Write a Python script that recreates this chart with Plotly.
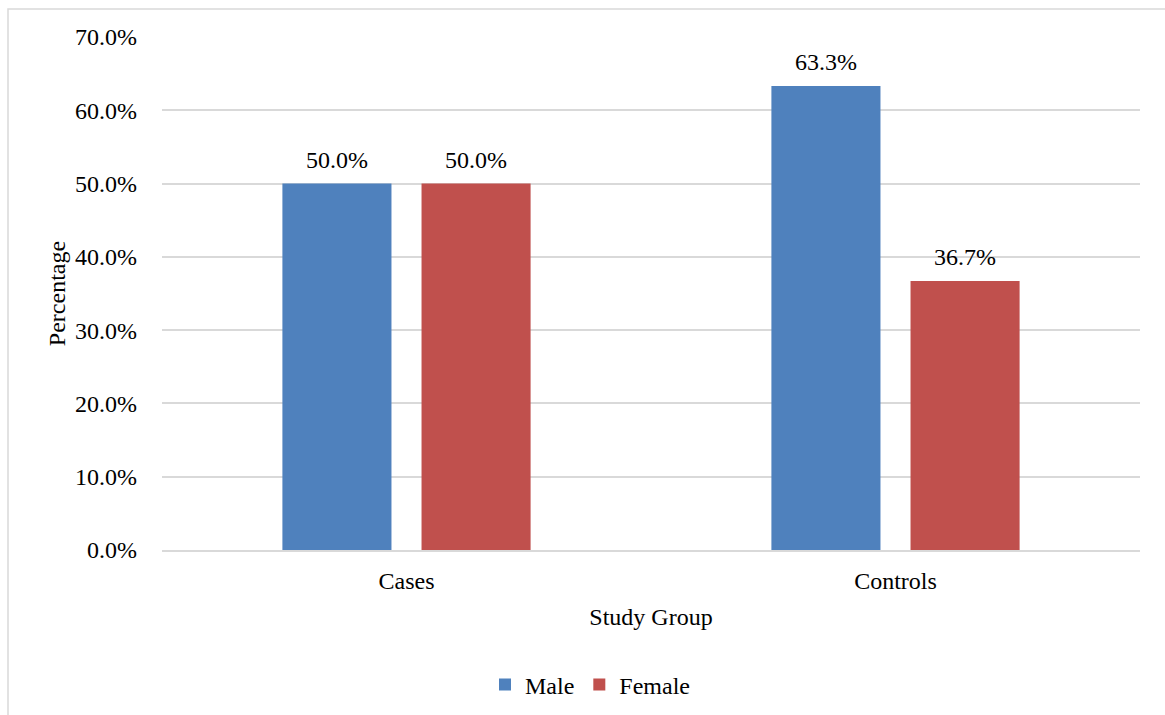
import plotly.graph_objects as go

# Study groups and sex distribution (percent)
groups = ["Cases", "Controls"]
male_pct = [50.0, 63.3]
female_pct = [50.0, 36.7]
y_ticks = [0, 10, 20, 30, 40, 50, 60, 70]

W, H = 1165, 715
L, R, T, B = 162, 25, 37, 165
plot_w = W - L - R
plot_h = H - T - B

FONT = "Liberation Serif"
GRID = "#d9d9d9"
FS = 24

BARGAP = 0.431
GROUPGAP = 0.216


def f(size=FS):
    return dict(family=FONT, size=size, color="#000000")


fig = go.Figure()
fig.add_trace(go.Bar(
    x=groups, y=male_pct, name="Male",
    marker=dict(color="#4F81BD", line=dict(width=0)),
))
fig.add_trace(go.Bar(
    x=groups, y=female_pct, name="Female",
    marker=dict(color="#C0504D", line=dict(width=0)),
))

# value labels above each bar, offset to the centre of its slot in the group
slot_px = plot_w / len(groups) * (1 - BARGAP) / 2
for k, series in enumerate([male_pct, female_pct]):
    for g, v in zip(groups, series):
        fig.add_annotation(
            x=g, y=v, xref="x", yref="y", text=f"{v:.1f}%",
            showarrow=False, font=f(), xanchor="center", yanchor="middle",
            xshift=(k - 0.5) * slot_px, yshift=24,
        )


# outer chart frame (extends past the right and bottom edges)
def px_x(p):
    return (p - L) / plot_w


def px_y(p):
    return (H - B - p) / plot_h


fig.add_shape(type="rect", xref="paper", yref="paper",
              x0=px_x(8), x1=px_x(1180), y0=px_y(730), y1=px_y(9),
              line=dict(color=GRID, width=1.5), fillcolor="rgba(0,0,0,0)", layer="below")

fig.update_layout(
    width=W, height=H,
    margin=dict(l=L, r=R, t=T, b=B, pad=0, autoexpand=False),
    paper_bgcolor="white", plot_bgcolor="white",
    font=f(),
    barmode="group", bargap=BARGAP, bargroupgap=GROUPGAP,
    showlegend=True,
    legend=dict(orientation="h", x=px_x(590), xanchor="center",
                y=px_y(685), yanchor="middle",
                font=f(), itemwidth=30,
                itemsizing="constant", traceorder="normal"),
    xaxis=dict(
        title=dict(text="Study Group", font=f(), standoff=16),
        showgrid=False, showline=True, linecolor=GRID, linewidth=1.5,
        ticks="", tickfont=f(), ticklabelstandoff=8, automargin=False,
    ),
    yaxis=dict(
        title=dict(text="Percentage", font=f(), standoff=2),
        range=[0, 70], tickvals=y_ticks,
        ticktext=[f"{v:.1f}%" for v in y_ticks],
        showgrid=True, gridcolor=GRID, gridwidth=1.5,
        zeroline=False, showline=False, ticks="",
        tickfont=f(), ticklabelstandoff=24, automargin=False,
    ),
)

fig.write_html("out.html")
